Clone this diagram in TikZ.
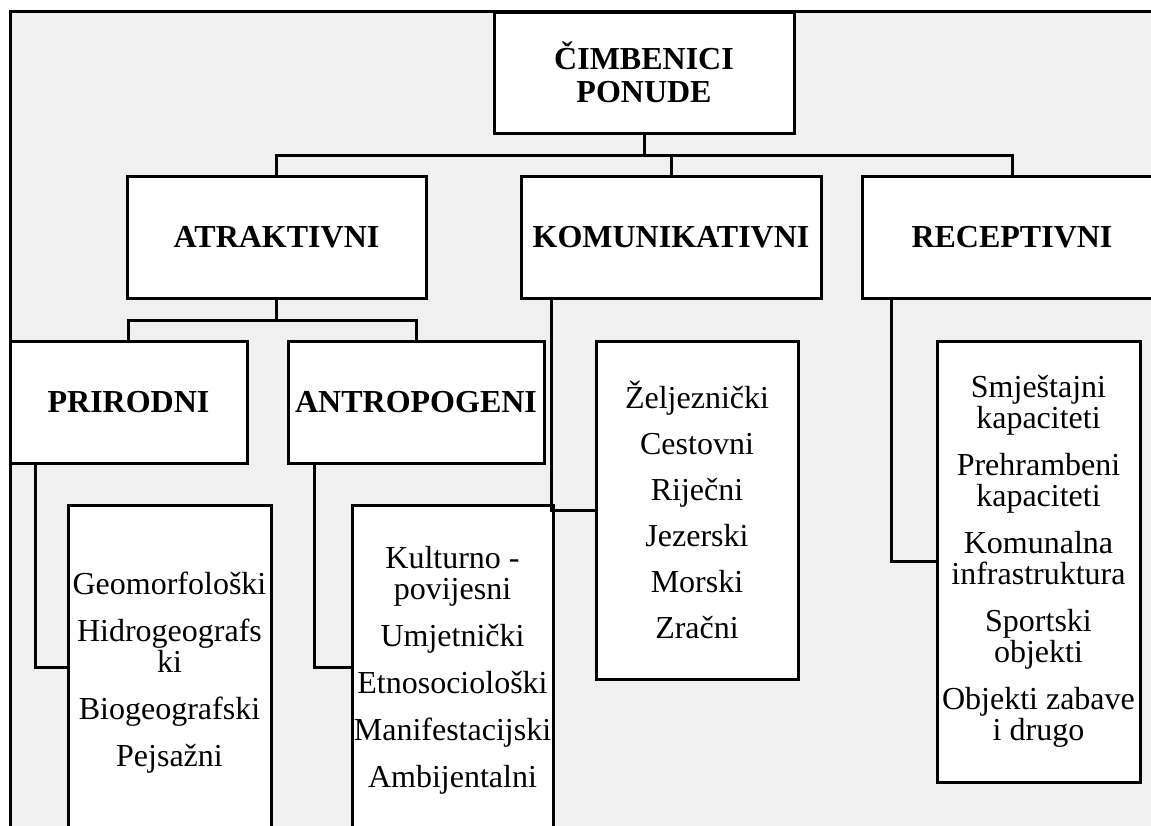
\documentclass[tikz,border=0pt]{standalone}
\usepackage{fontspec}
\setmainfont{Liberation Serif}
\usetikzlibrary{arrows.meta,shapes}

\definecolor{panelgrey}{HTML}{F0F0F0}

\begin{document}
\begin{tikzpicture}[x=1pt,y=-1pt,
    every node/.style={inner sep=0pt,outer sep=0pt,align=center,font=\fontsize{32}{31}\selectfont},
    headbox/.style={draw=black,line width=3pt,fill=white,font=\fontsize{32}{33}\selectfont\bfseries},
    listbox/.style={draw=black,line width=3pt,fill=white},
    wire/.style={draw=black,line width=3pt}]
    \useasboundingbox (0,0) rectangle (1151,825);
    \clip (0,0) rectangle (1151,825);
    \fill[panelgrey] (10,11) rectangle (1170,845);
    \path[wire] (10,845) -- (10,11) -- (1170,11);

    \node(top)[headbox,minimum width=300pt,minimum height=121pt] at (644,72.5) {ČIMBENICI\\PONUDE};

    \node(atr)[headbox,minimum width=299pt,minimum height=122pt] at (276.5,237) {ATRAKTIVNI};
    \node(kom)[headbox,minimum width=300pt,minimum height=122pt] at (671,237) {KOMUNIKATIVNI};
    \node(rec)[headbox,minimum width=300pt,minimum height=122pt] at (1012,237) {RECEPTIVNI};

    \node(pri)[headbox,minimum width=237pt,minimum height=122pt] at (128.5,402) {PRIRODNI};
    \node(ant)[headbox,minimum width=256pt,minimum height=122pt] at (416,402) {ANTROPOGENI};

    \node(geo)[listbox,minimum width=203pt,minimum height=336pt] at (169.5,673) {Geomorfološki\\[16pt]Hidrogeografs\\ki\\[16pt]Biogeografski\\[16pt]Pejsažni};
    \node(kul)[listbox,minimum width=201pt,minimum height=330pt] at (452.5,670) {Kulturno -\\povijesni\\[16pt]Umjetnički\\[16pt]Etnosociološki\\[16pt]Manifestacijski\\[16pt]Ambijentalni};
    \node(zel)[listbox,minimum width=202pt,minimum height=338pt] at (697,510) {Željeznički\\[15pt]Cestovni\\[15pt]Riječni\\[15pt]Jezerski\\[15pt]Morski\\[15pt]Zračni};
    \node(smj)[listbox,minimum width=203pt,minimum height=441pt] at (1038.5,561.5) {Smještajni\\kapaciteti\\[16pt]Prehrambeni\\kapaciteti\\[16pt]Komunalna\\infrastruktura\\[16pt]Sportski\\objekti\\[16pt]Objekti zabave\\i drugo};

    % top level
    \path[wire](top.south) -- ++(0,22);
    \path[wire](atr.north) -- ++(0,-21) -| (rec.north);
    \path[wire](kom.north) -- ++(0,-21);

    % atraktivni
    \path[wire](atr.south) -- ++(0,22);
    \path[wire](pri.north) -- ++(0,-21) -| (ant.north);

    % lists
    \path[wire]([xshift=25pt]pri.south west) |- ([yshift=6pt]geo.west);
    \path[wire]([xshift=26pt]ant.south west) |- ([yshift=3pt]kul.west);
    \path[wire]([xshift=30pt]kom.south west) |- (zel.west);
    \path[wire]([xshift=29pt]rec.south west) |- (smj.west);

\end{tikzpicture}
\end{document}
